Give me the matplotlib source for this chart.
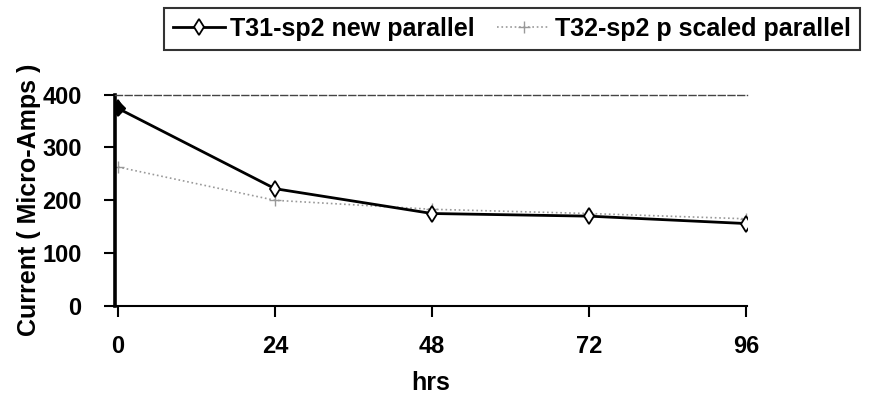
import numpy as np
import matplotlib.pyplot as plt

plt.rcParams['font.family'] = ['Liberation Sans', 'DejaVu Sans']
plt.rcParams['font.weight'] = 'bold'

hrs = [0, 24, 48, 72, 96]
t31 = [374, 222, 175, 170, 156]
t32 = [263, 200, 183, 175, 165]
xticks = [0, 24, 48, 72, 96]
yticks = [0, 100, 200, 300, 400]

fig = plt.figure(figsize=(8.71, 4.01), dpi=100)
ax = fig.add_axes([0.132, 0.237, 0.7256, 0.527])

l1, = ax.plot(hrs, t31, color='black', lw=2.0, marker='d', ms=8,
              mfc='white', mec='black', mew=1.3, label='T31-sp2 new parallel',
              zorder=3)
l2, = ax.plot(hrs, t32, color='#999999', lw=1.2, ls=':', marker='+', ms=9,
              mec='#999999', label='T32-sp2 p scaled parallel', zorder=2)
# first point is drawn filled
ax.plot(hrs[0], t31[0], marker='D', ms=7, color='black', zorder=4)

ax.set_xlim(-0.46, 96.15)
ax.set_ylim(0, 400)
ax.set_xticks(xticks)
ax.set_yticks(yticks)
ax.tick_params(axis='both', labelsize=17, width=1.5, length=8)
ax.tick_params(axis='x', pad=13)
ax.tick_params(axis='y', pad=16)
for lab in ax.get_xticklabels() + ax.get_yticklabels():
    lab.set_fontweight('bold')

ax.spines['right'].set_visible(False)
ax.spines['top'].set_linestyle((0, (5, 2)))
ax.spines['top'].set_linewidth(1.0)
ax.spines['top'].set_color('#444444')
ax.spines['left'].set_linewidth(2.6)
ax.spines['bottom'].set_linewidth(1.5)

ax.set_xlabel('hrs', fontsize=18, fontweight='bold', labelpad=9)
ax.set_ylabel('Current ( Micro-Amps )', fontsize=18, fontweight='bold', labelpad=1)

leg = fig.legend(handles=[l1, l2], loc='upper left',
                 bbox_to_anchor=(164 / 871, 1 - 8 / 401), borderaxespad=0,
                 ncol=2, frameon=True, fancybox=False,
                 handlelength=2.1, handletextpad=0.2, columnspacing=0.9,
                 borderpad=0.35, edgecolor='black',
                 prop={'weight': 'bold', 'size': 18})
leg.get_frame().set_linewidth(1.5)

fig.savefig('out.png', dpi=100)
